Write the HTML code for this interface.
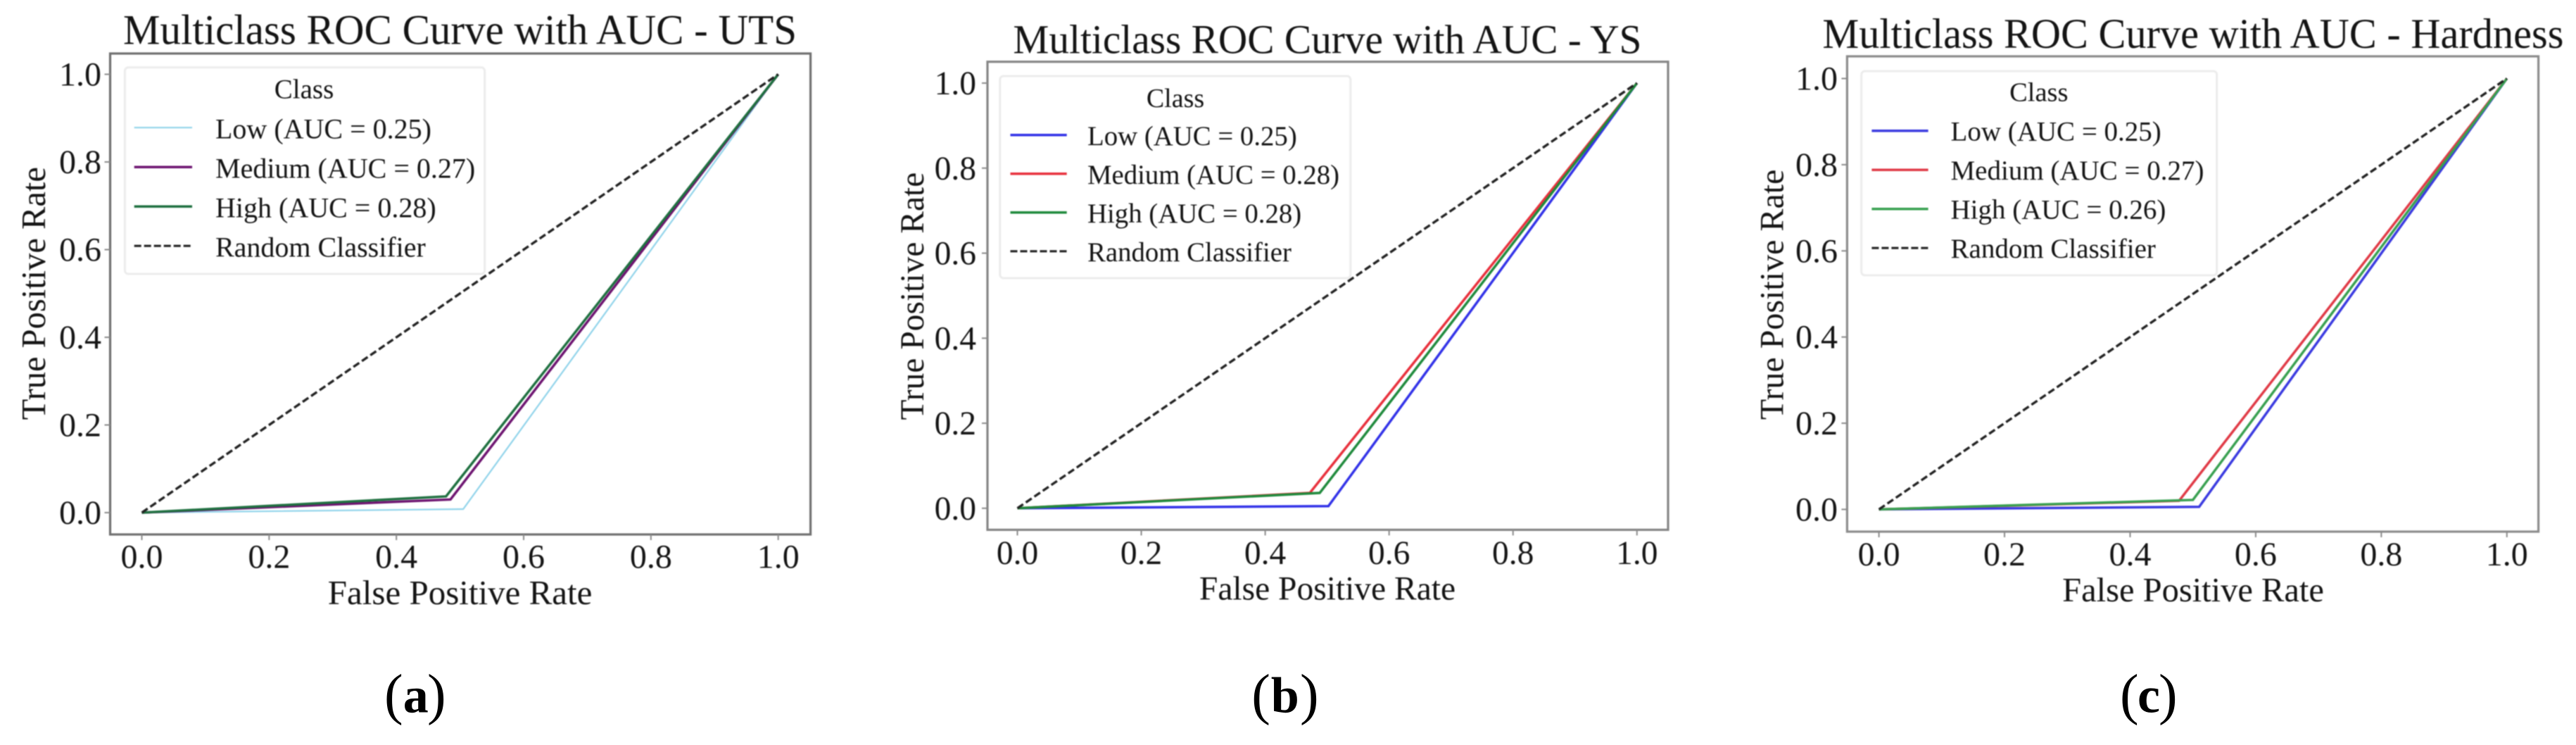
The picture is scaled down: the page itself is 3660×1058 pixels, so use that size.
<!DOCTYPE html>
<html lang="en">
<head>
<meta charset="utf-8">
<title>Multiclass ROC Curves</title>
<style>
html,body{margin:0;padding:0;background:#fff;}
body{width:3660px;height:1058px;overflow:hidden;}
svg{display:block;}
text{font-family:"Liberation Serif","Times New Roman",serif;fill:#141414;}
.panel{filter:blur(0.9px);}
.caption{fill:#000;}
.caption-paren{font-size:80px;}
.caption-letter{font-size:72px;font-weight:bold;}
</style>
</head>
<body>
<svg id="figure" xmlns="http://www.w3.org/2000/svg" width="3660" height="1058" viewBox="0 0 3660 1058">
  <rect width="3660" height="1058" fill="#fff"/>
  <g id="panel-uts" class="panel">
    <text x="175" y="62.5" font-size="60" textLength="957" lengthAdjust="spacingAndGlyphs">Multiclass ROC Curve with AUC - UTS</text>
    <text x="653.6" y="858" font-size="49" text-anchor="middle">False Positive Rate</text>
    <text transform="translate(63.8 416.7) rotate(-90)" font-size="48.5" text-anchor="middle">True Positive Rate</text>
  </g>
  <g id="panel-ys" class="panel">
    <text x="1439.4" y="75.6" font-size="58" textLength="893" lengthAdjust="spacingAndGlyphs">Multiclass ROC Curve with AUC - YS</text>
    <text x="1886" y="851.5" font-size="47.5" text-anchor="middle">False Positive Rate</text>
    <text transform="translate(1311.8 420.6) rotate(-90)" font-size="47.5" text-anchor="middle">True Positive Rate</text>
  </g>
  <g id="panel-hardness" class="panel">
    <text x="2589.4" y="68" font-size="60" textLength="1053" lengthAdjust="spacingAndGlyphs">Multiclass ROC Curve with AUC - Hardness</text>
    <text x="3116" y="854" font-size="48.5" text-anchor="middle">False Positive Rate</text>
    <text transform="translate(2533.4 418.4) rotate(-90)" font-size="48" text-anchor="middle">True Positive Rate</text>
  </g>
  <text class="caption"><tspan class="caption-paren" x="546" y="1013">(</tspan><tspan class="caption-letter" x="572.7" y="1011.7">a</tspan><tspan class="caption-paren" x="607" y="1013">)</tspan></text>
  <text class="caption"><tspan class="caption-paren" x="1778.2" y="1013">(</tspan><tspan class="caption-letter" x="1805.8" y="1011.7">b</tspan><tspan class="caption-paren" x="1847" y="1013">)</tspan></text>
  <text class="caption"><tspan class="caption-paren" x="3012" y="1013">(</tspan><tspan class="caption-letter" x="3037" y="1011.7">c</tspan><tspan class="caption-paren" x="3067" y="1013">)</tspan></text>
</svg>
<script>
const classNames = ['Low', 'Medium', 'High'];
const randomLabel = 'Random Classifier';
const legendTitle = 'Class';
const xTickValues = [0.0, 0.2, 0.4, 0.6, 0.8, 1.0];
const yTickValues = [0.0, 0.2, 0.4, 0.6, 0.8, 1.0];
const randomFpr = [0, 1];
const randomTpr = [0, 1];

const utsAuc = [0.25, 0.27, 0.28];
const utsLowFpr = [0, 0.505, 1];
const utsLowTpr = [0, 0.008, 1];
const utsMediumFpr = [0, 0.485, 1];
const utsMediumTpr = [0, 0.030, 1];
const utsHighFpr = [0, 0.478, 1];
const utsHighTpr = [0, 0.037, 1];

const ysAuc = [0.25, 0.28, 0.28];
const ysLowFpr = [0, 0.502, 1];
const ysLowTpr = [0, 0.005, 1];
const ysMediumFpr = [0, 0.472, 1];
const ysMediumTpr = [0, 0.036, 1];
const ysHighFpr = [0, 0.488, 1];
const ysHighTpr = [0, 0.036, 1];

const hardnessAuc = [0.25, 0.27, 0.26];
const hardnessLowFpr = [0, 0.510, 1];
const hardnessLowTpr = [0, 0.006, 1];
const hardnessMediumFpr = [0, 0.478, 1];
const hardnessMediumTpr = [0, 0.020, 1];
const hardnessHighFpr = [0, 0.500, 1];
const hardnessHighTpr = [0, 0.022, 1];

const SVG_NS = 'http://www.w3.org/2000/svg';

const panels = [
  {
    group: 'panel-uts', auc: utsAuc,
    fpr: [utsLowFpr, utsMediumFpr, utsHighFpr],
    tpr: [utsLowTpr, utsMediumTpr, utsHighTpr],
    colors: ['#8fd3ea', '#6d1470', '#1f7040'], widths: [2.2, 3.5, 3.5], frame: '#707070',
    box: {l: 156.5, r: 1151.6, t: 76, b: 759},
    x0: 201.5, x1: 1105.7, y0: 728, y1: 105.5,
    tickFont: 48, xTickBase: 806.7, yTickRight: 144,
    legend: {l: 177.4, r: 688.7, t: 95.8, b: 389, titleX: 432, titleBase: 139.5, titleFont: 39, font: 40,
             textX: 306, firstBase: 196.7, step: 56, hx0: 190.7, hx1: 273, hOff: -15.5}
  },
  {
    group: 'panel-ys', auc: ysAuc,
    fpr: [ysLowFpr, ysMediumFpr, ysHighFpr],
    tpr: [ysLowTpr, ysMediumTpr, ysHighTpr],
    colors: ['#3232e8', '#e8303c', '#1f8a3c'], widths: [3.5, 3.5, 3.5], frame: '#858585',
    box: {l: 1403, r: 2370, t: 87.7, b: 752.4},
    x0: 1445.5, x1: 2325.8, y0: 721.8, y1: 118,
    tickFont: 47.5, xTickBase: 801, yTickRight: 1387,
    legend: {l: 1420.8, r: 1918.8, t: 108, b: 395, titleX: 1670, titleBase: 151.8, titleFont: 38, font: 38.8,
             textX: 1545, firstBase: 205.8, step: 55, hx0: 1435.5, hx1: 1515.7, hOff: -14}
  },
  {
    group: 'panel-hardness', auc: hardnessAuc,
    fpr: [hardnessLowFpr, hardnessMediumFpr, hardnessHighFpr],
    tpr: [hardnessLowTpr, hardnessMediumTpr, hardnessHighTpr],
    colors: ['#3a3ae0', '#e03a46', '#38a050'], widths: [3.5, 3.5, 3.5], frame: '#8c8c8c',
    box: {l: 2624.4, r: 3606.6, t: 80, b: 755},
    x0: 2669.6, x1: 3561.8, y0: 723.4, y1: 111.5,
    tickFont: 48, xTickBase: 803, yTickRight: 2611,
    legend: {l: 2644.7, r: 3149.7, t: 101, b: 391, titleX: 2896.8, titleBase: 143.7, titleFont: 38.5, font: 39,
             textX: 2771.5, firstBase: 199.7, step: 55.5, hx0: 2659.4, hx1: 2739.6, hOff: -14}
  }
];

function create(parent, tag, attrs, content) {
  const node = document.createElementNS(SVG_NS, tag);
  for (const key in attrs) node.setAttribute(key, attrs[key]);
  if (content !== undefined) node.textContent = content;
  parent.appendChild(node);
  return node;
}

function makeXScale(p) {
  return function (v) { return p.x0 + (p.x1 - p.x0) * v; };
}
function makeYScale(p) {
  return function (v) { return p.y0 + (p.y1 - p.y0) * v; };
}
function pointString(xs, ys, xScale, yScale) {
  return xs.map(function (v, i) {
    return xScale(v).toFixed(2) + ',' + yScale(ys[i]).toFixed(2);
  }).join(' ');
}

panels.forEach(function (p) {
  const root = document.getElementById(p.group);
  const xScale = makeXScale(p);
  const yScale = makeYScale(p);

  let el = create(root, 'rect', {x: p.box.l, y: p.box.t, width: p.box.r - p.box.l, height: p.box.b - p.box.t, fill: 'none', stroke: p.frame, 'stroke-width': 3.2});
  
  

  xTickValues.forEach(function (v) {
    const x = xScale(v);
    let t = create(root, 'line', {x1: x, x2: x, y1: p.box.b, y2: p.box.b + 8, stroke: '#8a8a8a', 'stroke-width': 2});
    
    
    let lab = create(root, 'text', {x: x, y: p.xTickBase, 'font-size': p.tickFont, 'text-anchor': 'middle'}, v.toFixed(1));
    
    
  });

  yTickValues.forEach(function (v) {
    const y = yScale(v);
    let t = create(root, 'line', {x1: p.box.l - 8, x2: p.box.l, y1: y, y2: y, stroke: '#8a8a8a', 'stroke-width': 2});
    
    
    let lab = create(root, 'text', {x: p.yTickRight, y: y + 16, 'font-size': p.tickFont, 'text-anchor': 'end'}, v.toFixed(1));
    
    
  });

  classNames.forEach(function (name, i) {
    let curve = create(root, 'polyline', {points: pointString(p.fpr[i], p.tpr[i], xScale, yScale), fill: 'none', stroke: p.colors[i], 'stroke-width': p.widths[i], 'stroke-linejoin': 'miter'});
    
    
  });

  let diag = create(root, 'polyline', {points: pointString(randomFpr, randomTpr, xScale, yScale), fill: 'none', stroke: '#222', 'stroke-width': 3.4, 'stroke-dasharray': '10 4.6'});
  
  

  const L = p.legend;
  let box = create(root, 'rect', {x: L.l, y: L.t, width: L.r - L.l, height: L.b - L.t, rx: 5, fill: '#fff', 'fill-opacity': 0.8, stroke: '#ececec', 'stroke-width': 3});
  
  

  let lt = create(root, 'text', {x: L.titleX, y: L.titleBase, 'font-size': L.titleFont, 'text-anchor': 'middle'}, legendTitle);
  
  

  classNames.forEach(function (name, i) {
    const base = L.firstBase + L.step * i;
    let h = create(root, 'line', {x1: L.hx0, x2: L.hx1, y1: base + L.hOff, y2: base + L.hOff, stroke: p.colors[i], 'stroke-width': p.widths[i]});
    
    
    let txt = create(root, 'text', {x: L.textX, y: base, 'font-size': L.font}, name + ' (AUC = ' + p.auc[i].toFixed(2) + ')');
    
    
  });

  const rb = L.firstBase + L.step * 3;
  let rh = create(root, 'line', {x1: L.hx0, x2: L.hx1, y1: rb + L.hOff, y2: rb + L.hOff, stroke: '#222', 'stroke-width': 3.2, 'stroke-dasharray': '10 4'});
  
  
  let rt = create(root, 'text', {x: L.textX, y: rb, 'font-size': L.font}, randomLabel);
  
  
});
</script>
</body>
</html>
